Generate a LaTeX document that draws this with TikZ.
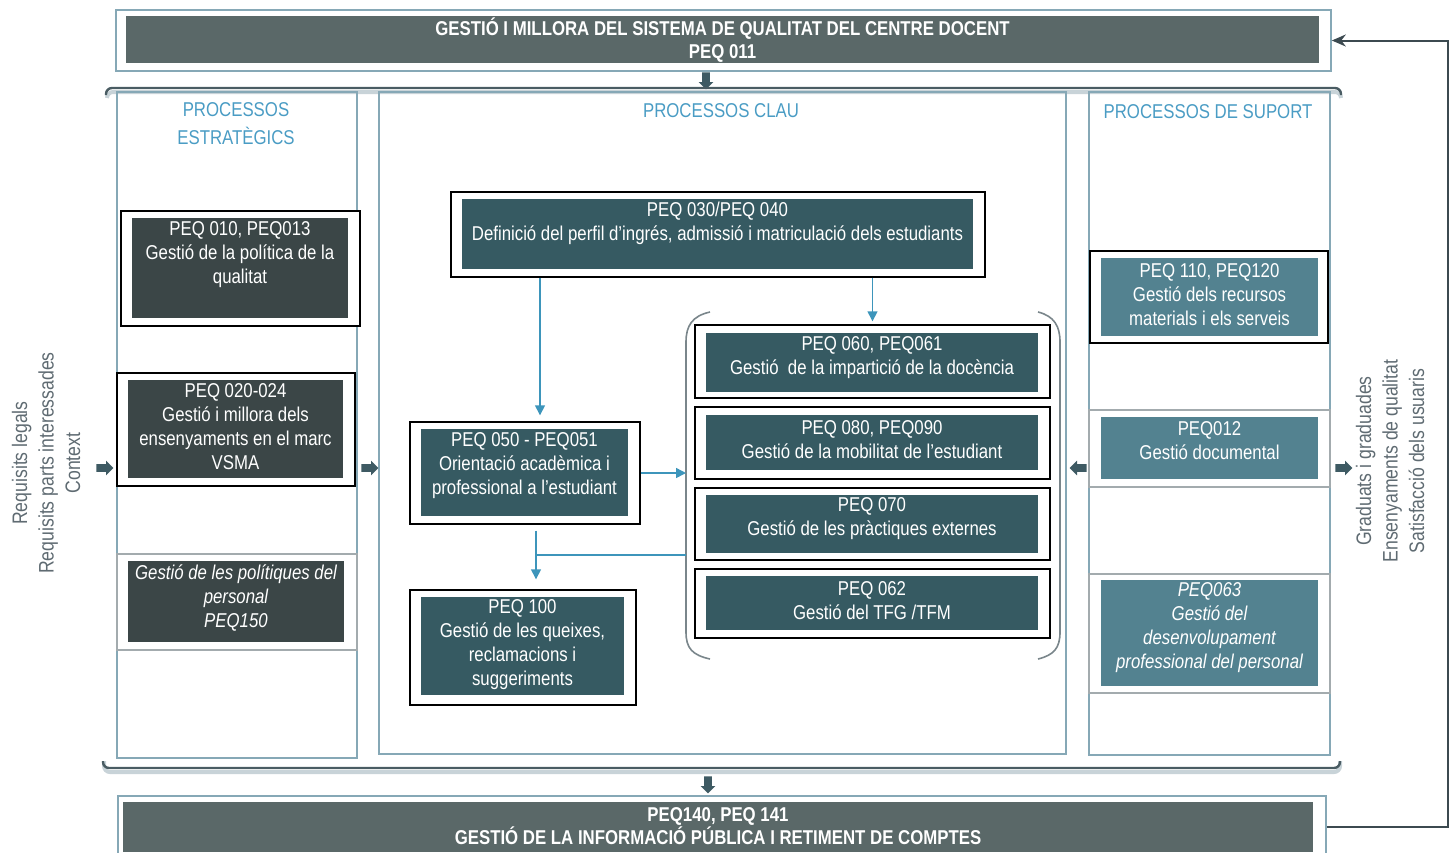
\documentclass[tikz,border=0pt]{standalone}
\usepackage{fontspec}
\setmainfont{Liberation Sans}[FakeStretch=0.84]
\usetikzlibrary{arrows.meta,shapes.arrows,positioning}

\definecolor{framecol}{HTML}{86A8B6}
\definecolor{titlecol}{HTML}{4A9CC4}
\definecolor{bargrey}{HTML}{5A6868}
\definecolor{charcoal}{HTML}{3B4647}
\definecolor{darkteal}{HTML}{365A62}
\definecolor{midteal}{HTML}{538290}
\definecolor{linkblue}{HTML}{3D95BB}
\definecolor{arrowcol}{HTML}{3E5A63}
\definecolor{sepgrey}{HTML}{A3ABAE}
\definecolor{sidegrey}{HTML}{5F6B72}
\definecolor{bracketcol}{HTML}{4A5C63}
\definecolor{shadowcol}{HTML}{C8D3D8}
\definecolor{parencol}{HTML}{7A868B}
\definecolor{feedcol}{HTML}{3C4A50}

\tikzset{
  column/.style={draw=framecol, line width=0.8pt, inner sep=0pt},
  boxframe/.style={draw=black, line width=0.7pt, fill=white, inner sep=0pt},
  greyframe/.style={draw=sepgrey, line width=0.7pt, fill=white, inner sep=0pt},
  procfill/.style={inner sep=0pt},
  proctext/.style={text=white, align=center, inner sep=0pt, font=\fontsize{10}{12}\selectfont},
  bartext/.style={text=white, align=center, inner sep=0pt, font=\bfseries\fontsize{10}{11.5}\selectfont},
  coltitle/.style={text=titlecol, align=center, inner sep=0pt, font=\fontsize{10}{14}\selectfont},
  sidetext/.style={text=sidegrey, align=center, rotate=90, inner sep=0pt, font=\fontsize{10.5}{13.25}\selectfont},
  link/.style={draw=linkblue, line width=0.7pt, -{Triangle[length=5pt,width=5pt]}},
  linkplain/.style={draw=linkblue, line width=0.7pt},
  blockarrow/.style={single arrow, fill=arrowcol, inner sep=1.7pt, minimum height=8.5pt, single arrow head extend=1.8pt, single arrow head indent=0pt},
  bracket/.style={draw=bracketcol, line width=1.2pt, rounded corners=3pt},
  bracketshadow/.style={draw=shadowcol, line width=2pt, rounded corners=3pt},
  paren/.style={draw=parencol, line width=0.8pt},
  feedback/.style={draw=feedcol, line width=1pt, -{Stealth[length=7pt,width=6pt]}}
}

\begin{document}
\begin{tikzpicture}[x=0.5pt,y=-0.5pt]
\useasboundingbox (0,0) rectangle (1455,852);
%
% top bar
\node[column, minimum width=607.5pt, minimum height=30.5pt] (topframe) at (723.5,40.5) {};
\node[procfill, fill=bargrey, minimum width=596.5pt, minimum height=23.5pt] (top) at (722.5,39.5) {};
\node[bartext] (toptxt) at (722.5,40.5) {GESTIÓ I MILLORA DEL SISTEMA DE QUALITAT DEL CENTRE DOCENT\\PEQ 011};
\node[blockarrow, shape border rotate=270] (topdown) at (706,79) {};
%
% brackets round the three columns
\draw[bracketshadow] (107,98) |- (1341,92) -- (1341,98);
\draw[bracketshadow] (104,761) |- (1340,772) -- (1340,761);
\node[column, minimum width=120pt, minimum height=333pt] (stratcol) at (237,425) {};
\node[column, minimum width=343.5pt, minimum height=331pt] (keycol) at (722.5,423) {};
\node[column, minimum width=120.5pt, minimum height=331.5pt] (supcol) at (1209.5,423.5) {};
\draw[bracket] (106,95) |- (1341,88) -- (1341,95);
\draw[bracket] (103,761) |- (1340,768) -- (1340,761);
%
\node[coltitle] (strattitle) at (236,124) {PROCESSOS\\ESTRATÈGICS};
\node[coltitle] (keytitle) at (721,111) {PROCESSOS CLAU};
\node[coltitle] (suptitle) at (1208,112) {PROCESSOS DE SUPORT};
%
% strategic processes
\node[boxframe, minimum width=119.5pt, minimum height=57.5pt] (polframe) at (240.5,268.5) {};
\node[procfill, fill=charcoal, minimum width=108pt, minimum height=50pt] (pol) at (240,268) {};
\node[proctext] (poltxt) at (240,255) {PEQ 010, PEQ013\\Gestió de la política de la\\qualitat};
%
\node[boxframe, minimum width=119pt, minimum height=56.5pt] (vsmaframe) at (236,429.5) {};
\node[procfill, fill=charcoal, minimum width=107.5pt, minimum height=49pt] (vsma) at (235.5,429) {};
\node[proctext] (vsmatxt) at (235.5,427) {PEQ 020-024\\Gestió i millora dels\\ensenyaments en el marc\\VSMA};
%
\node[greyframe, minimum width=120pt, minimum height=48pt] (persframe) at (237,602) {};
\node[procfill, fill=charcoal, minimum width=108pt, minimum height=40.5pt] (pers) at (236,601.5) {};
\node[proctext, font=\itshape\fontsize{10}{12}\selectfont] (perstxt) at (236,598) {Gestió de les polítiques del\\personal\\PEQ150};
%
% key processes
\node[boxframe, minimum width=267pt, minimum height=42.5pt] (admframe) at (718,234.5) {};
\node[procfill, fill=darkteal, minimum width=255.5pt, minimum height=35pt] (adm) at (717.5,234) {};
\node[proctext] (admtxt) at (717.5,223.5) {PEQ 030/PEQ 040\\Definició del perfil d’ingrés, admissió i matriculació dels estudiants};
%
\node[boxframe, minimum width=115pt, minimum height=51pt] (orientframe) at (525,473) {};
\node[procfill, fill=darkteal, minimum width=103.5pt, minimum height=43.5pt] (orient) at (524.5,472.5) {};
\node[proctext] (orienttxt) at (524.5,465.5) {PEQ 050 - PEQ051\\Orientació acadèmica i\\professional a l’estudiant};
%
\node[boxframe, minimum width=113pt, minimum height=57.5pt] (queixframe) at (523,647.5) {};
\node[procfill, fill=darkteal, minimum width=101.5pt, minimum height=49pt] (queix) at (522.5,646) {};
\node[proctext] (queixtxt) at (522.5,645) {PEQ 100\\Gestió de les queixes,\\reclamacions i\\suggeriments};
%
\draw[paren] (710,312) .. controls (692,316) and (686,326) .. (686,342) -- (686,632) .. controls (686,648) and (692,655) .. (710,659);
\draw[paren] (1038,312) .. controls (1054,316) and (1060,326) .. (1060,342) -- (1060,632) .. controls (1060,648) and (1054,655) .. (1038,659);
%
\node[boxframe, minimum width=177.5pt, minimum height=36.5pt] (docframe) at (872.5,361.5) {};
\node[procfill, fill=darkteal, minimum width=166pt, minimum height=29.5pt] (doc) at (872,362.5) {};
\node[proctext] (doctxt) at (872,357.5) {PEQ 060, PEQ061\\Gestió~ de la impartició de la docència};
%
\node[boxframe, minimum width=177.5pt, minimum height=36pt] (mobframe) at (872.5,443) {};
\node[procfill, fill=darkteal, minimum width=166pt, minimum height=27.5pt] (mob) at (872,442.5) {};
\node[proctext] (mobtxt) at (872,439.5) {PEQ 080, PEQ090\\Gestió de la mobilitat de l’estudiant};
%
\node[boxframe, minimum width=177.5pt, minimum height=36pt] (pracframe) at (872.5,524) {};
\node[procfill, fill=darkteal, minimum width=166pt, minimum height=29pt] (prac) at (872,524) {};
\node[proctext] (practxt) at (872,519) {PEQ 070\\Gestió de les pràctiques externes};
%
\node[boxframe, minimum width=177.5pt, minimum height=34.5pt] (tfgframe) at (872.5,603.5) {};
\node[procfill, fill=darkteal, minimum width=166pt, minimum height=27pt] (tfg) at (872,603) {};
\node[proctext] (tfgtxt) at (872,600.5) {PEQ 062\\Gestió del TFG /TFM};
%
% support processes
\node[boxframe, minimum width=119pt, minimum height=46pt] (recframe) at (1209,297) {};
\node[procfill, fill=midteal, minimum width=108.5pt, minimum height=39pt] (rec) at (1209.5,297) {};
\node[proctext] (rectxt) at (1209.5,294.5) {PEQ 110, PEQ120\\Gestió dels recursos\\materials i els serveis};
%
\node[greyframe, minimum width=120.5pt, minimum height=38.5pt] (docuframe) at (1209.5,448.5) {};
\node[procfill, fill=midteal, minimum width=108.5pt, minimum height=31pt] (docu) at (1209.5,448) {};
\node[proctext] (docutxt) at (1209.5,440.5) {PEQ012\\Gestió documental};
%
\node[greyframe, minimum width=120.5pt, minimum height=59.5pt] (desenframe) at (1209.5,633.5) {};
\node[procfill, fill=midteal, minimum width=108.5pt, minimum height=53pt] (desen) at (1209.5,633) {};
\node[proctext, font=\itshape\fontsize{10}{12}\selectfont] (desentxt) at (1209.5,628) {PEQ063\\Gestió del\\desenvolupament\\professional del personal};
%
% links inside the key processes
\coordinate (parenL) at (686,469);
\coordinate (dropL) at (540,0);
\coordinate (joinQ) at (536,555);
\draw[link, shorten >=3pt] (dropL |- admframe.south) -- (dropL |- orientframe.north);
\draw[link, shorten >=1.5pt] (docframe.north |- admframe.south) -- (docframe.north);
\draw[link] (orientframe.east) -- (orientframe.east -| parenL);
\draw[linkplain] (joinQ -| parenL) -- (joinQ);
\draw[link, shorten <=3pt, shorten >=5pt] (joinQ |- orientframe.south) -- (joinQ |- queixframe.north);
%
% inputs and outputs
\node[sidetext] (inputs) at (46,463) {Requisits legals\\Requisits parts interessades\\Context};
\node[sidetext] (outputs) at (1390,461) {Graduats i graduades\\Ensenyaments de qualitat\\Satisfacció dels usuaris};
\node[blockarrow] (inarrow) at (103,468) {};
\node[blockarrow] (stratarrow) at (368,468) {};
\node[blockarrow, shape border rotate=180] (suparrow) at (1080,468) {};
\node[blockarrow] (outarrow) at (1342,468) {};
%
% bottom bar
\node[blockarrow, shape border rotate=270] (botdown) at (708,783) {};
\node[column, minimum width=604pt, minimum height=31pt] (botframe) at (722,827) {};
\node[procfill, fill=bargrey, minimum width=595pt, minimum height=25pt] (bot) at (718,827) {};
\node[bartext] (bottxt) at (718,826) {PEQ140, PEQ 141\\GESTIÓ DE LA INFORMACIÓ PÚBLICA I RETIMENT DE COMPTES};
%
% feedback loop
\coordinate (fbk) at (1448,0);
\draw[feedback] (botframe.east) -| (fbk |- topframe.east) -- (topframe.east);
\end{tikzpicture}
\end{document}
